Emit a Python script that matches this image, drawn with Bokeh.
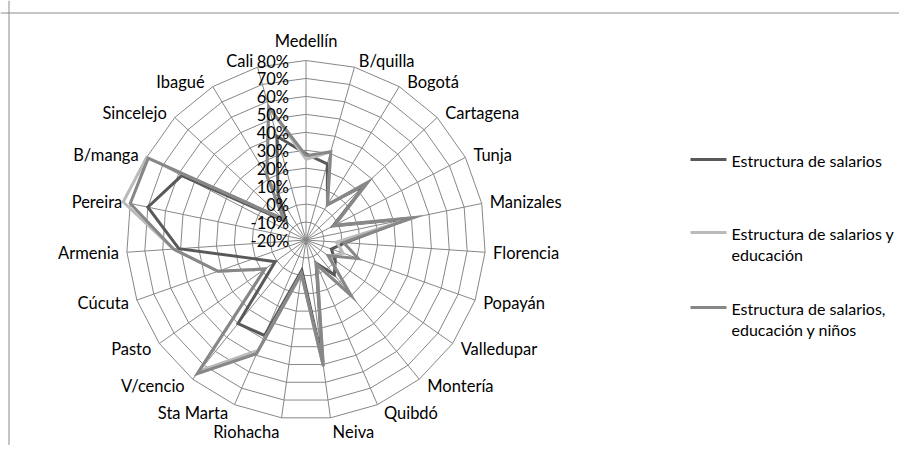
import numpy as np
from bokeh.plotting import figure
from bokeh.models import Span
from bokeh.core.properties import value
from bokeh.embed import file_html
from bokeh.resources import INLINE

# ---------------- data ----------------
categories = ["Medellín", "B/quilla", "Bogotá", "Cartagena", "Tunja", "Manizales",
              "Florencia", "Popayán", "Valledupar", "Montería", "Quibdó", "Neiva",
              "Riohacha", "Sta Marta", "V/cencio", "Pasto", "Cúcuta", "Armenia",
              "Pereira", "B/manga", "Sincelejo", "Ibagué", "Cali"]

salarios = [28, 24, 3, 25, -3, 38, 2, -5, 0, 5, -6, 48, -3, 38, 40, 1, 11, 51,
            70, 58, -5, 10, 40]
salarios_educacion = [25, 31, 3, 27, -2, 41, -3, 2, -4, 18, -5, 51, -1, 47, 74,
                      8, 32, 54, 84, 80, -3, 22, 57]
salarios_educacion_ninos = [27, 31, 3, 27, -2, 41, 1, 11, -5, 20, -5, 51, -1, 49,
                            76, 8, 32, 54, 80, 79, -3, 22, 57]

series_names = ["Estructura de salarios",
                "Estructura de salarios y\neducación",
                "Estructura de salarios,\neducación y niños"]

tick_values = [-20, -10, 0, 10, 20, 30, 40, 50, 60, 70, 80]
tick_labels = ["-20%", "-10%", "0%", "10%", "20%", "30%", "40%", "50%", "60%",
               "70%", "80%"]

# ---------------- layout ----------------
W, H = 899, 445
S = 1.795              # px per percentage point
CX, CY = 305.5, 239.5  # centre of radar in figure px
FONT = "Lato"
FS = "16.5px"
LFS = "16px"
GRID = "#878787"
colors = ["#595959", "#bababa", "#878787"]
base = tick_values[0]


def px2d(px, py):
    return (px - CX) / S, (CY - py) / S


x0, y1 = px2d(0, 0)
x1, y0 = px2d(W, H)

p = figure(width=W, height=H, x_range=(x0, x1), y_range=(y0, y1),
           output_backend="svg", toolbar_location=None,
           x_axis_location=None, y_axis_location=None,
           min_border_left=0, min_border_top=0, min_border_right=0,
           min_border_bottom=0)
p.grid.visible = False
p.outline_line_color = None
p.background_fill_color = "white"
p.border_fill_color = "white"

# chart-area border (top and left edges visible in the reference)
bx, by = px2d(8.5, 12.5)
p.add_layout(Span(location=by, dimension="width", line_color="#8c8c8c", line_width=1))
p.add_layout(Span(location=bx, dimension="height", line_color="#8c8c8c", line_width=1))

n = len(categories)
theta = np.arange(n) * 2 * np.pi / n
sx, cy = np.sin(theta), np.cos(theta)
rmax = tick_values[-1] - base

# rings
for t in tick_values[1:]:
    r = t - base
    p.line(list(r * sx) + [r * sx[0]], list(r * cy) + [r * cy[0]],
           line_color=GRID, line_width=1)
# spokes
p.segment(x0=[0] * n, y0=[0] * n, x1=list(rmax * sx), y1=list(rmax * cy),
          line_color=GRID, line_width=1)

# series
for vals, col in zip([salarios, salarios_educacion, salarios_educacion_ninos], colors):
    r = np.array(vals) - base
    xs = list(r * sx) + [r[0] * sx[0]]
    ys = list(r * cy) + [r[0] * cy[0]]
    p.line(xs, ys, line_color=col, line_width=3, line_join="miter")

# percentage labels
p.text(x=[0] * len(tick_values), y=[t - base for t in tick_values], text=tick_labels,
       x_offset=-17, y_offset=1, text_align="right", text_baseline="middle",
       text_font=value(FONT), text_font_size=FS, text_color="black")

# category labels
lx, ly, xo, yo, al = [], [], [], [], []
for i in range(n):
    lx.append(rmax * sx[i])
    ly.append(rmax * cy[i])
    if abs(sx[i]) < 0.05:
        al.append("center"); xo.append(0); yo.append(-20 if cy[i] > 0 else 14)
    else:
        al.append("left" if sx[i] > 0 else "right")
        mag = 8 * min(1.0, abs(sx[i]) / 0.5)
        xo.append(mag if sx[i] > 0 else -mag)
        if cy[i] >= 0:
            yo.append(-6 * cy[i])
        elif abs(sx[i]) < 0.2:
            yo.append(14)
        else:
            yo.append(-9 * cy[i])
p.text(x=lx, y=ly, text=categories, x_offset=xo, y_offset=yo, text_align=al,
       text_baseline="middle", text_font=value(FONT), text_font_size=FS,
       text_color="black")

# legend (drawn manually)
leg_y = [159, 232, 307]
for name, col, yy in zip(series_names, colors, leg_y):
    a = px2d(690, yy)
    b = px2d(726, yy)
    p.line([a[0], b[0]], [a[1], b[1]], line_color=col, line_width=3)
    lines = name.split("\n")
    for k, ln in enumerate(lines):
        tx, ty = px2d(731, yy + 1 + 21 * k)
        p.text(x=[tx], y=[ty], text=[ln], text_align="left", text_baseline="middle",
               text_font=value(FONT), text_font_size=LFS, text_color="black")

open("out.html", "w").write(file_html(p, INLINE))
